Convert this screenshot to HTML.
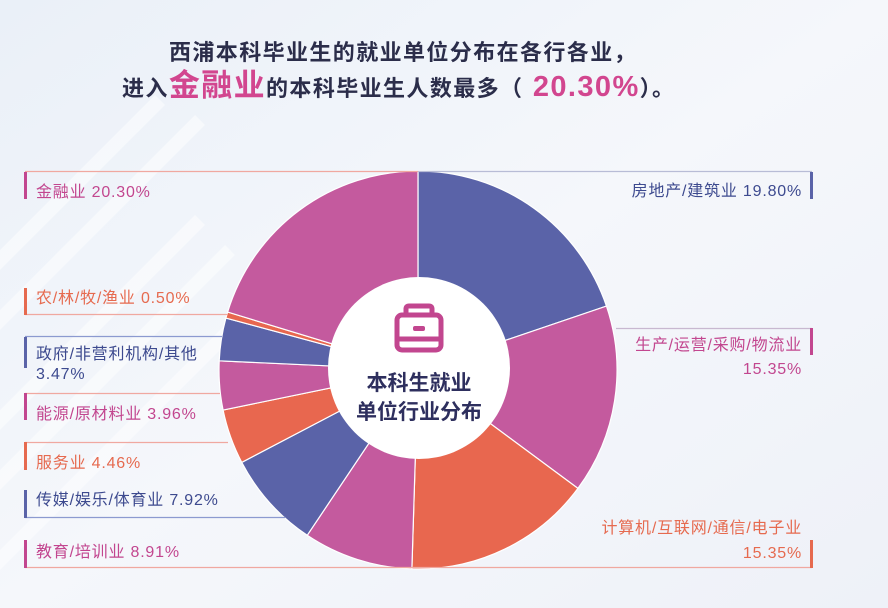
<!DOCTYPE html>
<html><head><meta charset="utf-8"><style>
html,body{margin:0;padding:0}
body{width:888px;height:608px;overflow:hidden;background:#f3f5fa;font-family:"Liberation Sans","Noto Sans CJK SC",sans-serif}
svg{position:absolute;left:0;top:0}
</style></head><body>
<svg id="s" width="888" height="608" viewBox="0 0 888 608" xmlns="http://www.w3.org/2000/svg">
<defs>
<linearGradient id="bg" x1="0" y1="0" x2="1" y2="1">
<stop offset="0" stop-color="#eaf0f8"/><stop offset="0.5" stop-color="#f5f7fb"/><stop offset="1" stop-color="#eef1f8"/>
</linearGradient>
</defs>
<rect width="888" height="608" fill="url(#bg)"/>
<g stroke="#ffffff" stroke-width="14" opacity="0.5">
<line x1="-40" y1="300" x2="160" y2="100"/><line x1="-40" y1="360" x2="200" y2="120"/>
<line x1="-40" y1="460" x2="200" y2="220"/><line x1="-40" y1="520" x2="230" y2="250"/>
<line x1="-40" y1="600" x2="230" y2="330"/>
</g>
<g id="pie"></g>
<circle cx="419" cy="368" r="91" fill="#ffffff"/>
<g fill="none" stroke="#c2468f" stroke-width="5">
<rect x="397" y="315" width="44" height="35" rx="5"/>
<path d="M406 315 v-6 q0-3 3-3 h20 q3 0 3 3 v6"/>
<line x1="397" y1="339" x2="441" y2="339"/>
</g>
<rect x="413" y="326" width="12" height="5" rx="2" fill="#c2468f"/>
<text x="419" y="390" text-anchor="middle" font-size="21" font-weight="bold" fill="#2e2f5e">本科生就业</text>
<text x="419" y="419" text-anchor="middle" font-size="21" font-weight="bold" fill="#2e2f5e">单位行业分布</text>

<text x="169" y="60" font-size="22" letter-spacing="1.4" font-weight="bold" fill="#2b2d4a">西浦本科毕业生的就业单位分布在各行各业，</text>
<text x="122" y="96" font-size="22" letter-spacing="1.4" font-weight="bold" fill="#2b2d4a">进入<tspan font-size="31" fill="#d2468f">金融业</tspan>的本科毕业生人数最多（<tspan font-size="29" fill="#d2468f"> 20.30%</tspan>）。</text>

<g font-size="16" letter-spacing="0.8">
<line x1="25" y1="171.5" x2="418" y2="171.5" stroke="#f0a8a0" stroke-width="1.2"/>
<rect x="24" y="172" width="3" height="27" fill="#c2468f"/>
<text x="36" y="197" fill="#c2468f">金融业 20.30%</text>

<line x1="25" y1="314.5" x2="228" y2="314.5" stroke="#f0a8a0" stroke-width="1.2"/>
<rect x="24" y="288" width="3" height="27" fill="#e66a4f"/>
<text x="36" y="303" fill="#e66a4f">农/林/牧/渔业 0.50%</text>

<line x1="25" y1="336.5" x2="222" y2="336.5" stroke="#8c9ad0" stroke-width="1.2"/>
<rect x="24" y="337" width="3" height="31" fill="#5a63a8"/>
<text x="36" y="359" fill="#3d4a8f">政府/非营利机构/其他</text>
<text x="36" y="379" fill="#3d4a8f">3.47%</text>

<line x1="25" y1="393.5" x2="220" y2="393.5" stroke="#f0a8a0" stroke-width="1.2"/>
<rect x="24" y="393" width="3" height="27" fill="#c2468f"/>
<text x="36" y="419" fill="#c2468f">能源/原材料业 3.96%</text>

<line x1="25" y1="442.5" x2="228" y2="442.5" stroke="#f0a8a0" stroke-width="1.2"/>
<rect x="24" y="442" width="3" height="28" fill="#e66a4f"/>
<text x="36" y="468" fill="#e66a4f">服务业 4.46%</text>

<line x1="25" y1="517.5" x2="285" y2="517.5" stroke="#8c9ad0" stroke-width="1.2"/>
<rect x="24" y="490" width="3" height="28" fill="#5a63a8"/>
<text x="36" y="505" fill="#3d4a8f">传媒/娱乐/体育业 7.92%</text>

<line x1="25" y1="567.5" x2="812" y2="567.5" stroke="#f0a8a0" stroke-width="1.2"/>
<rect x="24" y="540" width="3" height="28" fill="#c2468f"/>
<text x="36" y="557" fill="#c2468f">教育/培训业 8.91%</text>

<line x1="418" y1="171.5" x2="812" y2="171.5" stroke="#b8bcd6" stroke-width="1.2"/>
<rect x="810" y="172" width="3" height="27" fill="#5a63a8"/>
<text x="802" y="196" text-anchor="end" fill="#3d4a8f">房地产/建筑业 19.80%</text>

<line x1="616" y1="328.5" x2="812" y2="328.5" stroke="#c8b8d0" stroke-width="1.2"/>
<rect x="810" y="328" width="3" height="27" fill="#c2468f"/>
<text x="802" y="350" text-anchor="end" fill="#c2468f">生产/运营/采购/物流业</text>
<text x="802" y="374" text-anchor="end" fill="#c2468f">15.35%</text>

<rect x="810" y="540" width="3" height="28" fill="#e66a4f"/>
<text x="802" y="533" text-anchor="end" fill="#e66a4f">计算机/互联网/通信/电子业</text>
<text x="802" y="558" text-anchor="end" fill="#e66a4f">15.35%</text>
</g>
</svg>
<script>
(function(){
var d=[[19.8,"#5a63a8"],[15.35,"#c45a9e"],[15.35,"#e8674f"],[8.91,"#c45a9e"],[7.92,"#5a63a8"],[4.46,"#e8674f"],[3.96,"#c45a9e"],[3.47,"#5a63a8"],[0.5,"#e8674f"],[20.3,"#c45a9e"]];
var tot=0;d.forEach(function(x){tot+=x[0];});
var cx=418,cy=370,r=199,a=0,g=document.getElementById("pie"),h="";
d.forEach(function(x){
var a2=a+x[0]/tot*2*Math.PI;
var x1=cx+r*Math.sin(a),y1=cy-r*Math.cos(a),x2=cx+r*Math.sin(a2),y2=cy-r*Math.cos(a2);
h+='<path d="M'+cx+' '+cy+' L'+x1+' '+y1+' A'+r+' '+r+' 0 '+((a2-a)>Math.PI?1:0)+' 1 '+x2+' '+y2+' Z" fill="'+x[1]+'" stroke="#ffffff" stroke-width="1.2"/>';
a=a2;});
g.innerHTML=h;
})();
</script>
</body></html>
